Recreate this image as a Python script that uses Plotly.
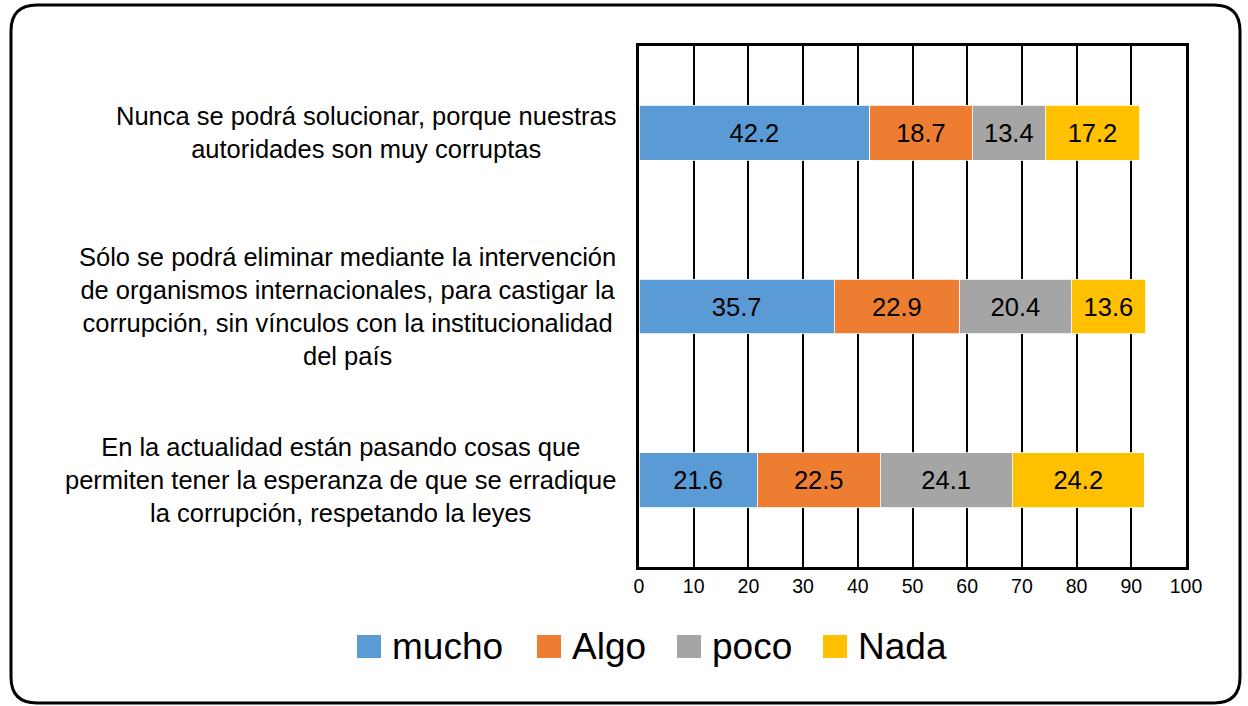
import plotly.graph_objects as go

categories = [
    "Nunca se podrá solucionar, porque nuestras<br>autoridades son muy corruptas",
    "Sólo se podrá eliminar mediante la intervención<br>de organismos internacionales, para castigar la<br>corrupción, sin vínculos con la institucionalidad<br>del país",
    "En la actualidad están pasando cosas que<br>permiten tener la esperanza de que se erradique<br>la corrupción, respetando la leyes",
]
series_names = ["mucho", "Algo", "poco", "Nada"]
mucho = [42.2, 35.7, 21.6]
algo = [18.7, 22.9, 22.5]
poco = [13.4, 20.4, 24.1]
nada = [17.2, 13.6, 24.2]
colors = ["#5B9BD5", "#ED7D31", "#A5A5A5", "#FFC000"]

W, H = 1248, 706
L, R, T, B = 639, 1186, 46, 567
FONT = "Liberation Sans, Arial, sans-serif"


def px(x):
  return (x - L) / (R - L)


def py(y):
  return (B - y) / (B - T)


fig = go.Figure()
keys = list(range(len(categories)))
for name, vals, col in zip(series_names, [mucho, algo, poco, nada], colors):
  fig.add_trace(go.Bar(
    y=keys, x=vals, name=name, orientation="h",
    marker=dict(color=col, line=dict(color="white", width=0.8)),
    text=[f"{v:.1f}" for v in vals], textposition="inside",
    insidetextanchor="middle",
    textfont=dict(size=25.5, color="black", family=FONT),
    width=0.315, showlegend=False,
  ))

fig.update_layout(
  barmode="stack", width=W, height=H,
  margin=dict(l=L, r=W - R, t=T, b=H - B),
  paper_bgcolor="white", plot_bgcolor="white",
  font=dict(family=FONT, color="black"),
  uniformtext=dict(minsize=25.5, mode="show"),
)
fig.update_xaxes(
  range=[0, 100], dtick=10, showgrid=True, gridcolor="black", gridwidth=2,
  showline=True, linecolor="black", linewidth=3, mirror=True,
  zeroline=False, tickfont=dict(size=19.5, color="black"), ticks="",
)
fig.update_yaxes(
  range=[2.5, -0.5], showticklabels=False, showgrid=False, zeroline=False,
  showline=True, linecolor="black", linewidth=3, mirror=True, ticks="",
)

# category labels, centred multi-line text to the left of the plot
for i, cat in enumerate(categories):
  fig.add_annotation(
    x=px(618), xref="paper", y=i, yref="y", text=cat, showarrow=False,
    xanchor="right", yanchor="middle", align="center",
    font=dict(size=25.5, color="black", family=FONT),
  )

# legend drawn by hand for large square keys
leg_sq = [357, 537, 677, 823]
for name, col, x0 in zip(series_names, colors, leg_sq):
  fig.add_shape(type="rect", xref="paper", yref="paper",
                x0=px(x0), x1=px(x0 + 24), y0=py(658), y1=py(635),
                fillcolor=col, line=dict(width=0))
  fig.add_annotation(x=px(x0 + 33), y=py(646), xref="paper", yref="paper",
                     text=name, showarrow=False, xanchor="left", yanchor="middle",
                     font=dict(size=37, color="black", family=FONT))

# rounded outer frame
x0, x1, y0, y1, r = 11, 1240, 5, 703, 26
rx, ry = r / (R - L), r / (B - T)
a, b, c, d = px(x0), px(x1), py(y0), py(y1)
path = (f"M {a+rx},{c} L {b-rx},{c} Q {b},{c} {b},{c-ry} L {b},{d+ry} "
        f"Q {b},{d} {b-rx},{d} L {a+rx},{d} Q {a},{d} {a},{d+ry} "
        f"L {a},{c-ry} Q {a},{c} {a+rx},{c} Z")
fig.add_shape(type="path", xref="paper", yref="paper", path=path,
              line=dict(color="black", width=3))

fig.write_html("out.html", config={"displayModeBar": False},
               post_script="document.body.style.margin='0';")
